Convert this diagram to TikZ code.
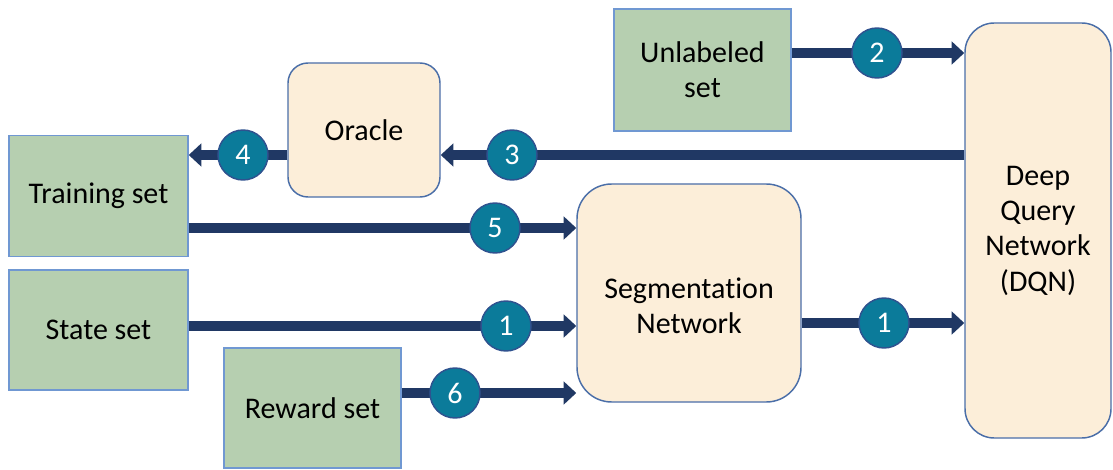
\documentclass[tikz,border=0pt]{standalone}
\usepackage{fontspec}
\setmainfont{Carlito}[Ligatures=NoCommon]
\usetikzlibrary{arrows.meta}
\definecolor{setgreen}{HTML}{B6CFB0}
\definecolor{setedge}{HTML}{7098D2}
\definecolor{netfill}{HTML}{FCEED9}
\definecolor{netedge}{HTML}{4A6EA8}
\definecolor{flow}{HTML}{203864}
\definecolor{badge}{HTML}{0B7B9A}
\definecolor{badgeedge}{HTML}{2F528F}
\tikzset{
  base/.style={inner sep=0pt, align=center, font=\fontsize{22.5}{26.5}\selectfont},
  setbox/.style={base, draw=setedge, fill=setgreen, line width=1.1pt},
  netbox/.style={base, draw=netedge, fill=netfill, line width=1.1pt, rounded corners=#1},
  badgenode/.style={circle, draw=badgeedge, fill=badge, line width=1.1pt,
    minimum size=37.5pt, inner sep=0pt, text=white, font=\fontsize{22.5}{27}\selectfont},
  flowarrow/.style={draw=flow, line width=7.2pt,
    -{Triangle[length=9.5pt,width=17pt]}},
}
\begin{document}
\begin{tikzpicture}[x=0.75pt,y=-0.75pt]
\useasboundingbox (0,0) rectangle (1113,470);

% data sets
\node[setbox, minimum width=132.75pt, minimum height=91.5pt] (unl) at (702.5,70) {Unlabeled\\set};
\node[setbox, minimum width=134.25pt, minimum height=90.75pt] (train) at (98.5,196) {Training set};
\node[setbox, minimum width=134.25pt, minimum height=90pt] (state) at (98.5,330) {State set};
\node[setbox, minimum width=132.75pt, minimum height=90pt] (reward) at (312.5,408) {Reward set};

% networks and oracle
\node[netbox=15pt, minimum width=114pt, minimum height=100.5pt] (oracle) at (364,130) {Oracle};
\node[netbox=26pt, minimum width=168pt, minimum height=163.5pt] (seg) at (689,293) {};
\node[base] (segtext) at (689,306) {Segmentation\\Network};
\node[netbox=22pt, minimum width=109.5pt, minimum height=311.25pt] (dqn) at (1038,230.5) {Deep\\Query\\Network\\(DQN)};

% step badges
\coordinate (b2) at (877,53);
\coordinate (b3) at (512,155);
\coordinate (b4) at (243,155);
\coordinate (b5) at (495,228);
\coordinate (b1a) at (506,326);
\coordinate (b6) at (455,393);
\coordinate (b1b) at (884,323);

% flows
\draw[flowarrow] (unl.east |- b2) -- (dqn.west |- b2);
\draw[flowarrow] (dqn.west |- b3) -- (oracle.east |- b3);
\draw[flowarrow] (oracle.west |- b4) -- (train.east |- b4);
\draw[flowarrow] (train.east |- b5) -- (seg.west |- b5);
\draw[flowarrow] (state.east |- b1a) -- (seg.west |- b1a);
\draw[flowarrow] (reward.east |- b6) -- (seg.west |- b6);
\draw[flowarrow] (seg.east |- b1b) -- (dqn.west |- b1b);

\node[badgenode] (n2) at (b2) {2};
\node[badgenode] (n3) at (b3) {3};
\node[badgenode] (n4) at (b4) {4};
\node[badgenode] (n5) at (b5) {5};
\node[badgenode] (n1a) at (b1a) {1};
\node[badgenode] (n6) at (b6) {6};
\node[badgenode] (n1b) at (b1b) {1};
\end{tikzpicture}
\end{document}
